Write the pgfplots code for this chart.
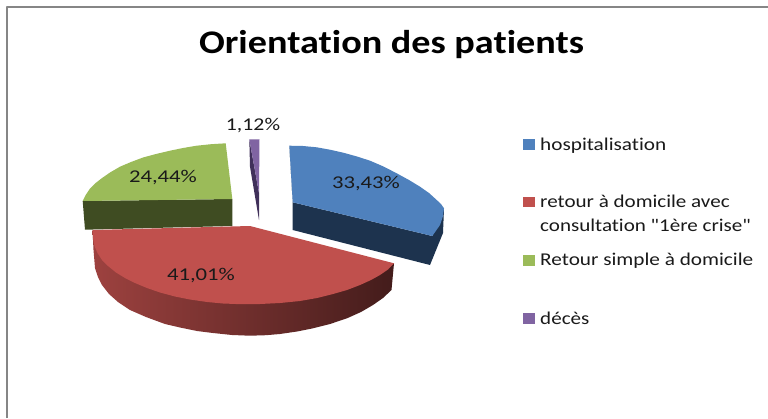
\documentclass[border=0pt]{standalone}
\usepackage{pgfplots}
\pgfplotsset{compat=1.18}
\usepackage{fontspec}
\setmainfont{Carlito}
\newfontfamily\carl{Carlito}[Ligatures=NoCommon]
\newcommand{\sx}[2]{\scalebox{#1}[1]{#2}}
\definecolor{cblue}{HTML}{4F81BD}
\definecolor{cred}{HTML}{C0504D}
\definecolor{cgreen}{HTML}{9BBB59}
\definecolor{cpurple}{HTML}{8064A2}
\definecolor{dblue}{HTML}{1D334E}
\definecolor{dgreen}{HTML}{3F4C22}
\definecolor{dpurple}{HTML}{40305A}
\definecolor{txt}{HTML}{1A1A1A}
\definecolor{frame}{HTML}{868686}
\begin{document}
\begin{tikzpicture}
\begin{axis}[
  scale only axis, width=768pt, height=418pt,
  xmin=0, xmax=768, ymin=0, ymax=418, y dir=reverse,
  hide axis, clip=true,
  every axis plot/.append style={line join=round},
]
% page background
\addplot[fill=white, draw=none] coordinates {(0,0) (768,0) (768,418) (0,418)} --cycle;
% frame
\addplot[frame, line width=1.5pt] coordinates {(7,418) (7,7) (768,7)};
% green
\addplot[fill=dgreen, draw=none] coordinates {(82.7,201) (85,229.7) (232.3,226) (232.3,199)} --cycle;
\addplot[fill=cgreen, draw=none] coordinates {(225.7,143.3) (211,144.2) (196.7,145.7) (183,148) (170,150.7) (156,154) (143,157.5) (131,162) (120,166.7) (110,172.5) (101.7,178.3) (95,183.5) (90,188.5) (86,194.5) (82.7,201) (232.3,199)} --cycle;
% purple
\addplot[fill=dpurple, draw=none] coordinates {(249.3,139.3) (259,193) (259,220) (250,166.7)} --cycle;
\addplot[fill=cpurple, draw=none] coordinates {(249.3,139.3) (259.5,139.3) (259,193)} --cycle;
% blue
\addplot[fill=dblue, draw=none] coordinates {(289.3,145.7) (292.7,202.3) (292.7,230) (430,265) (443,233) (444,208.3) (432.3,236) (292.7,202.3)} --cycle;
\addplot[fill=cblue, draw=none] coordinates {(289.3,145.7) (303,146) (316.7,147.3) (330,149.7) (343.3,152.7) (357,156.5) (370,160.7) (383.5,166.5) (396.7,173.3) (409,180) (420,186.7) (429,193) (436.7,200) (441,204) (444,208.3) (443,216) (440,225) (432.3,236) (292.7,202.3)} --cycle;
% red side
\addplot[draw=none, left color=cred!82!black, middle color=cred!55!black, right color=cred!35!black] coordinates {(92.5,230) (93.5,250) (95,268) (98,277) (102,285) (109,294) (118,302) (130,310) (146,317) (165,324) (180,327.5) (197,331) (213,333) (232,335) (250,335.7) (266,335.2) (280,334) (297,331.5) (313,328.3) (330,324) (347,318.3) (361,312) (373,305) (383,298) (391.5,290) (394,263.3)} --cycle;
% red top
\addplot[fill=cred, draw=none] coordinates {(250,226) (394,263.3) (388,269.5) (380,275) (371,280) (360,285) (347,290) (333,294) (317,298) (300,301) (280,303) (260,304) (241,304.2) (223,303.5) (207,302) (190,299.5) (175,296.5) (160,292.5) (147,288) (135,283) (125,278) (116,272.5) (108,266) (102,260) (97.5,253) (94.5,246) (92.9,238) (92.5,230)} --cycle;
% legend keys
\addplot[fill=cblue, draw=none] coordinates {(523.3,139) (534.7,139) (534.7,149.5) (523.3,149.5)} --cycle;
\addplot[fill=cred, draw=none] coordinates {(523.3,196.7) (534.7,196.7) (534.7,207.3) (523.3,207.3)} --cycle;
\addplot[fill=cgreen, draw=none] coordinates {(523.3,255) (534.7,255) (534.7,265.7) (523.3,265.7)} --cycle;
\addplot[fill=cpurple, draw=none] coordinates {(523.3,313.3) (534.7,313.3) (534.7,324) (523.3,324)} --cycle;
% title
\node[anchor=base, font=\carl\fontsize{33}{40}\selectfont\bfseries, text=black, inner sep=0pt] at (axis cs:391.5,53) {\sx{1.157}{Orientation des patients}};
% data labels
\begin{scope}[every node/.style={text=txt, inner sep=0pt, font=\carl\fontsize{18}{20}\selectfont}]
\node[anchor=base] at (axis cs:366,188) {\sx{1.26}{33,43\%}};
\node[anchor=base] at (axis cs:201,280) {\sx{1.26}{41,01\%}};
\node[anchor=base] at (axis cs:163,182) {\sx{1.26}{24,44\%}};
\node[anchor=base] at (axis cs:253,130) {\sx{1.21}{1,12\%}};
\node[anchor=base west] at (axis cs:540,150) {\sx{1.18}{hospitalisation}};
\node[anchor=base west] at (axis cs:540,207.7) {\sx{1.17}{retour à domicile avec}};
\node[anchor=base west] at (axis cs:540,231) {\sx{1.17}{consultation "1ère crise"}};
\node[anchor=base west] at (axis cs:540,265.7) {\sx{1.18}{Retour simple à domicile}};
\node[anchor=base west] at (axis cs:540,324) {\sx{1.17}{décès}};
\end{scope}
\end{axis}
\end{tikzpicture}
\end{document}
